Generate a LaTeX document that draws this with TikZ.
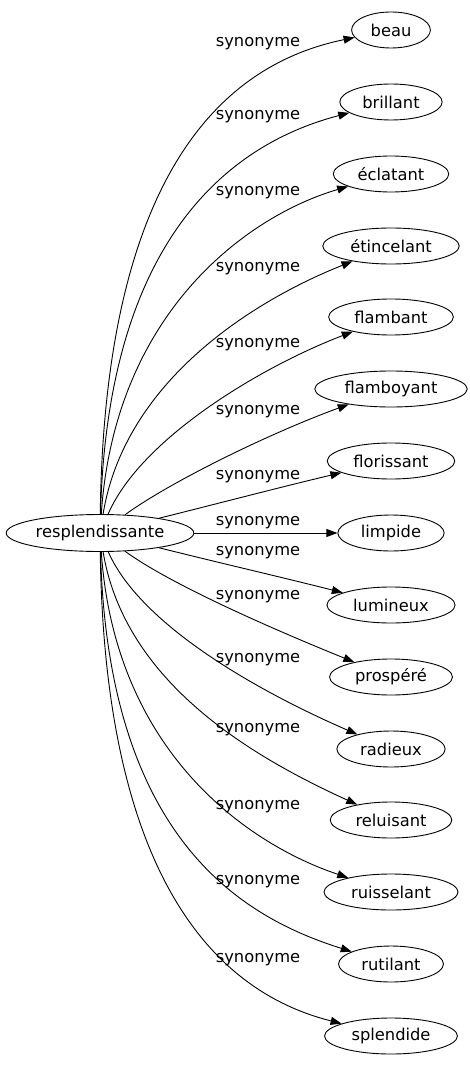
\documentclass[tikz,border=0pt]{standalone}
\usepackage{fontspec}
\setmainfont{DejaVu Sans}
\usepackage{tikz}
\usetikzlibrary{arrows.meta}
\usetikzlibrary{shapes.geometric}
\tikzset{>={Triangle[length=11pt, width=8pt]}}
\tikzstyle{word} = [draw, ellipse, line width = 0.9pt, inner xsep = 7.5pt, inner ysep = 2pt, minimum height = 36pt]
\tikzstyle{syn} = [->, line width = 0.9pt]
\tikzstyle{lbl} = [draw=none, inner sep = 0]

\begin{document}
\begin{tikzpicture}[x=1pt, y=-1pt, font=\fontsize{16.3}{19}\selectfont]
\useasboundingbox (0,0) rectangle (469,1067);
% source word
\node [word, inner xsep = 2pt, minimum height = 37pt] (res) at (100, 533) {resplendissante};
% synonyms
\node [word] (beau) at (391, 30) {beau};
\node [word] (brillant) at (391, 102) {brillant};
\node [word] (eclatant) at (391, 174) {éclatant};
\node [word] (etincelant) at (391, 246) {étincelant};
\node [word] (flambant) at (391, 317) {flambant};
\node [word] (flamboyant) at (391, 389) {flamboyant};
\node [word] (florissant) at (391, 461) {florissant};
\node [word] (limpide) at (391, 533) {limpide};
\node [word] (lumineux) at (391, 605) {lumineux};
\node [word] (prospere) at (391, 677) {prospéré};
\node [word] (radieux) at (391, 749) {radieux};
\node [word] (reluisant) at (391, 820) {reluisant};
\node [word] (ruisselant) at (391, 892) {ruisselant};
\node [word] (rutilant) at (391, 964) {rutilant};
\node [word] (splendide) at (391, 1036) {splendide};
% edge labels
\node [lbl] (sbeau) at (258, 44) {synonyme};
\node [lbl] (sbrillant) at (258, 117) {synonyme};
\node [lbl] (seclatant) at (258, 193) {synonyme};
\node [lbl] (setincelant) at (258, 269) {synonyme};
\node [lbl] (sflambant) at (258, 345) {synonyme};
\node [lbl] (sflamboyant) at (258, 412) {synonyme};
\node [lbl] (sflorissant) at (258, 477) {synonyme};
\node [lbl] (slimpide) at (258, 523) {synonyme};
\node [lbl] (slumineux) at (258, 553) {synonyme};
\node [lbl] (sprospere) at (258, 597) {synonyme};
\node [lbl] (sradieux) at (258, 660) {synonyme};
\node [lbl] (sreluisant) at (258, 730) {synonyme};
\node [lbl] (sruisselant) at (258, 807) {synonyme};
\node [lbl] (srutilant) at (258, 882) {synonyme};
\node [lbl] (ssplendide) at (258, 960) {synonyme};
% edges
\draw [syn] (res) .. controls (105, 150) and (240, 61) .. (beau);
\draw [syn] (res) .. controls (108, 222) and (245, 140) .. (brillant);
\draw [syn] (res) .. controls (115, 310) and (250, 215) .. (eclatant);
\draw [syn] (res) .. controls (125, 380) and (255, 300) .. (etincelant);
\draw [syn] (res) .. controls (140, 440) and (258, 368) .. (flambant);
\draw [syn] (res) .. controls (170, 482) and (270, 433) .. (flamboyant);
\draw [syn] (res) .. controls (220, 503) and (285, 486) .. (florissant);
\draw [syn] (res) -- (limpide);
\draw [syn] (res) .. controls (220, 563) and (285, 578) .. (lumineux);
\draw [syn] (res) .. controls (170, 584) and (270, 628) .. (prospere);
\draw [syn] (res) .. controls (140, 624) and (255, 690) .. (radieux);
\draw [syn] (res) .. controls (125, 684) and (255, 758) .. (reluisant);
\draw [syn] (res) .. controls (115, 754) and (250, 845) .. (ruisselant);
\draw [syn] (res) .. controls (108, 842) and (245, 918) .. (rutilant);
\draw [syn] (res) .. controls (105, 912) and (240, 998) .. (splendide);
\end{tikzpicture}
\end{document}
